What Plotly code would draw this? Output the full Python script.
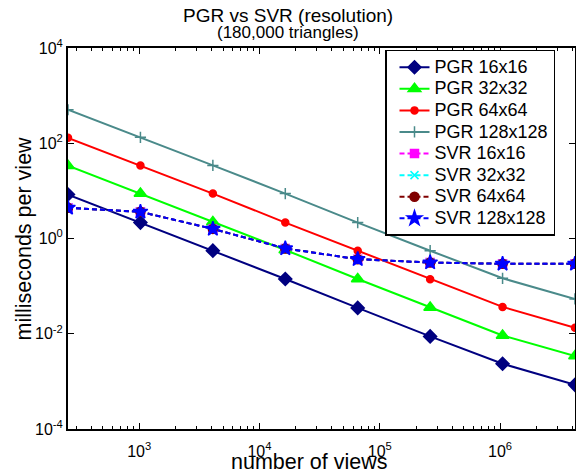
import plotly.graph_objects as go

views = [256, 1024, 4096, 16384, 65536, 262144, 1048576, 4194304]

pgr_16 = [8.37, 2.16, 0.556, 0.141, 0.0349, 0.00879, 0.00234, 0.000845]
pgr_32 = [33.7, 8.78, 2.23, 0.575, 0.141, 0.0356, 0.00922, 0.0034]
pgr_64 = [130, 34.2, 8.78, 2.16, 0.551, 0.139, 0.0366, 0.0133]
pgr_128 = [505, 133, 34.2, 8.78, 2.16, 0.554, 0.146, 0.0538]
svr_16 = [4.40, 3.63, 1.59, 0.618, 0.368, 0.313, 0.294, 0.294]
svr_32 = [4.40, 3.63, 1.59, 0.618, 0.368, 0.313, 0.294, 0.294]
svr_64 = [4.40, 3.63, 1.59, 0.618, 0.368, 0.313, 0.294, 0.294]
svr_128 = [4.40, 3.63, 1.59, 0.618, 0.368, 0.313, 0.294, 0.294]

x_ticks = [1e3, 1e4, 1e5, 1e6]
x_ticktext = ["10<sup>3</sup>", "10<sup>4</sup>", "10<sup>5</sup>", "10<sup>6</sup>"]
y_ticks = [1e-4, 1e-2, 1, 1e2, 1e4]
y_ticktext = ["10<sup>-4</sup>", "10<sup>-2</sup>", "10<sup>0</sup>", "10<sup>2</sup>", "10<sup>4</sup>"]
x_minor = [m * 10 ** k for k in range(2, 7) for m in range(2, 10)]

FONT = "Liberation Sans, Arial, sans-serif"

series = [
    ("PGR 16x16", pgr_16, "#000080", "solid", "diamond", 10),
    ("PGR 32x32", pgr_32, "#00FF00", "solid", "triangle-up", 11),
    ("PGR 64x64", pgr_64, "#FF0000", "solid", "circle", 7),
    ("PGR 128x128", pgr_128, "#4A8A8A", "solid", "cross-thin", 8),
    ("SVR 16x16", svr_16, "#FF00FF", "5px,3px", "square", 8),
    ("SVR 32x32", svr_32, "#00FFFF", "5px,3px", "x-thin", 8),
    ("SVR 64x64", svr_64, "#800000", "5px,3px", "circle", 9),
    ("SVR 128x128", svr_128, "#0000FF", "5px,3px", "star", 11),
]

fig = go.Figure()
for name, vals, color, dash, sym, size in series:
    fig.add_trace(go.Scatter(
        x=views, y=vals,
        name='<span style="font-size:18px">' + name + "</span>",
        mode="lines+markers",
        line=dict(color=color, width=2, dash=dash),
        marker=dict(symbol=sym, size=size, color=color,
                    line=dict(color=color, width=1.5)),
    ))

fig.update_layout(
    width=576, height=472,
    margin=dict(l=68, r=1, t=48, b=43, autoexpand=False),
    paper_bgcolor="white", plot_bgcolor="white",
    font=dict(family=FONT, color="black", size=16),
    showlegend=True,
    legend=dict(x=(385 - 68) / 507, y=0.995, xanchor="left", yanchor="top",
                bgcolor="white", bordercolor="black", borderwidth=1.5,
                font=dict(size=14.3, family=FONT), tracegroupgap=0,
                indentation=8),
    annotations=[
        dict(text="PGR vs SVR (resolution)", xref="paper", yref="paper",
             x=(288 - 68) / 507, y=1, yshift=33, showarrow=False,
             xanchor="center", yanchor="middle", font=dict(size=19)),
        dict(text="(180,000 triangles)", xref="paper", yref="paper",
             x=(288 - 68) / 507, y=1, yshift=16, showarrow=False,
             xanchor="center", yanchor="middle", font=dict(size=17)),
        dict(text="number of views", xref="paper", yref="paper",
             x=(309.5 - 68) / 507, y=0, yshift=-33, showarrow=False,
             xanchor="center", yanchor="middle", font=dict(size=21.5)),
        dict(text="milliseconds per view", xref="paper", yref="paper",
             x=(23 - 68) / 507, y=0.5, textangle=-90, showarrow=False,
             xanchor="center", yanchor="middle", font=dict(size=21.5)),
    ],
)

fig.update_xaxes(
    type="log", range=[2.40824, 6.62266], automargin=False,
    tickmode="array", tickvals=x_ticks, ticktext=x_ticktext,
    ticks="inside", ticklen=6, tickwidth=1, tickcolor="black",
    minor=dict(tickmode="array", tickvals=x_minor, ticks="inside", ticklen=3,
               tickcolor="black", showgrid=False),
    showline=True, linecolor="black", linewidth=2, mirror="ticks",
    showgrid=False, zeroline=False, ticklabelstandoff=7,
    tickfont=dict(size=16),
)
fig.update_yaxes(
    type="log", range=[-4, 4], automargin=False,
    tickmode="array", tickvals=y_ticks, ticktext=y_ticktext,
    ticks="inside", ticklen=6, tickwidth=1, tickcolor="black",
    showline=True, linecolor="black", linewidth=2, mirror="ticks",
    showgrid=False, zeroline=False,
    tickfont=dict(size=16),
)

fig.write_html("out.html", config={"displayModeBar": False},
               post_script="document.body.style.margin='0px';document.body.style.overflow='hidden';")
